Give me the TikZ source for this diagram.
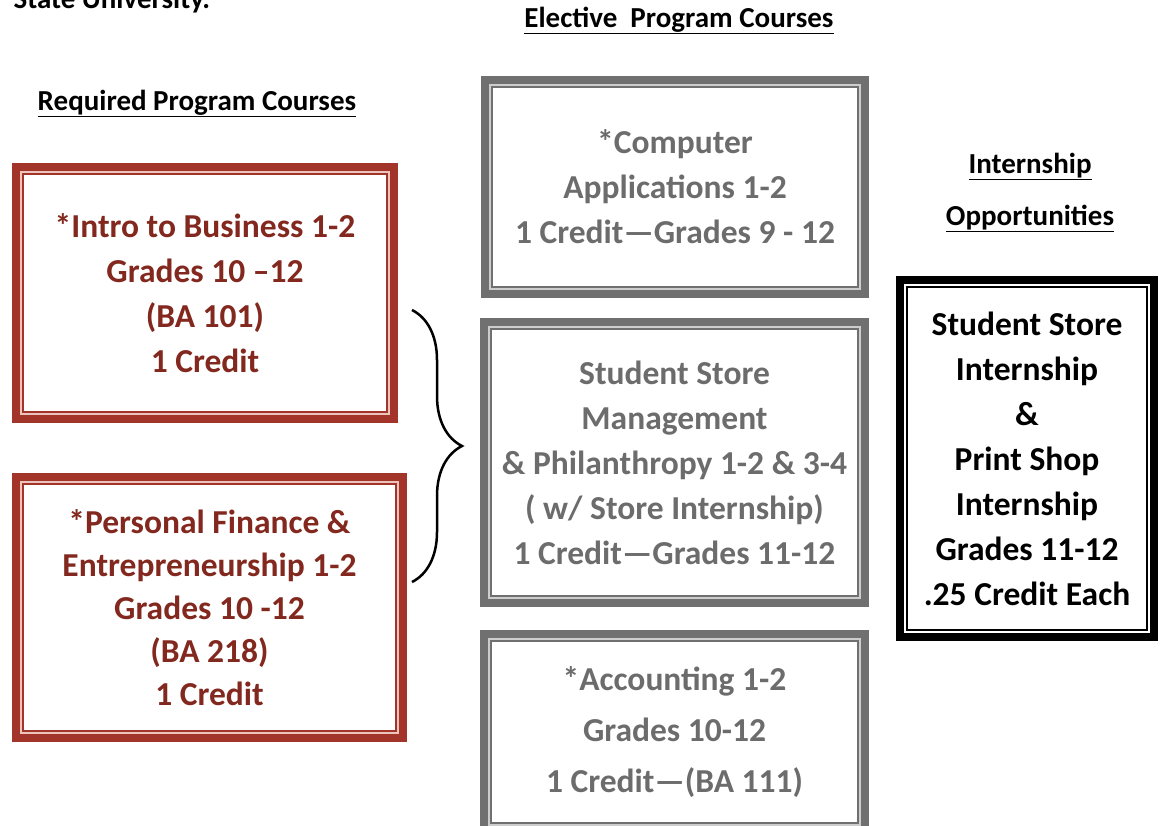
\documentclass[tikz,border=0pt]{standalone}
\usepackage{fontspec}
\setmainfont{Carlito}
\usetikzlibrary{decorations.pathreplacing}

\definecolor{redline}{RGB}{163,52,42}
\definecolor{redpale}{RGB}{236,196,188}
\definecolor{redtext}{RGB}{130,40,30}
\definecolor{grayline}{RGB}{112,112,112}
\definecolor{graypale}{RGB}{205,205,205}
\definecolor{graytext}{RGB}{108,108,108}

\begin{document}
\begin{tikzpicture}[
  x=1pt, y=-1pt,
  font=\bfseries,
  head/.style={anchor=base, font=\fontsize{29}{34}\selectfont\bfseries},
  card/.style={line width=8pt, outer sep=0pt, inner sep=0pt, align=center},
  req/.style={card, draw=redline, text=redtext, font=\fontsize{33.5}{45}\selectfont\bfseries},
  elec/.style={card, draw=grayline, text=graytext, font=\fontsize{33.5}{45}\selectfont\bfseries},
  intern/.style={card, draw=black, text=black, font=\fontsize{33.5}{45}\selectfont\bfseries},
  brc/.style={decorate, decoration={brace, amplitude=50pt}, line width=2.5pt}
]
\useasboundingbox (0,0) rectangle (1161,825);
\clip (0,0) rectangle (1161,825);

\node[anchor=base west, font=\fontsize{29}{34}\selectfont\bfseries] (uni) at (10,8) {State University.};

\node[head] (reqHead) at (197,110) {\underline{Required Program Courses}};
\node[head] (elecHead) at (679,27) {\underline{Elective\ \ Program Courses}};
\node[head] (intHead) at (1030,173) {\underline{Internship}};
\node[head] (oppHead) at (1030,225) {\underline{Opportunities}};

\node[req, minimum width=378, minimum height=252] (intro) at (205,293)
  {*Intro to Business 1-2\\Grades 10 –12\\(BA 101)\\1 Credit};
\node[req, minimum width=387, minimum height=261, font=\fontsize{33.5}{43}\selectfont\bfseries] (pfin) at (209.5,607.5)
  {*Personal Finance \&\\Entrepreneurship 1-2\\Grades 10 -12\\(BA 218)\\1 Credit};

\node[elec, minimum width=380, minimum height=214] (comp) at (675,187)
  {*Computer\\Applications 1-2\\1 Credit—Grades 9 - 12};
\node[elec, minimum width=381, minimum height=281] (store) at (674.5,462.5)
  {Student Store\\Management\\\& Philanthropy 1-2 \& 3-4\\( w/ Store Internship)\\1 Credit—Grades 11-12};
\node[elec, minimum width=381, minimum height=196, font=\fontsize{33.5}{51}\selectfont\bfseries] (acct) at (674.5,732)
  {*Accounting 1-2\\Grades 10-12\\1 Credit—(BA 111)};

\node[intern, minimum width=254, minimum height=357] (shop) at (1027,458.5)
  {Student Store\\Internship\\\&\\Print Shop\\Internship\\Grades 11-12\\.25 Credit Each};

\foreach \n/\c/\p in {intro/redline/redpale, pfin/redline/redpale, comp/grayline/graypale,
    store/grayline/graypale, acct/grayline/graypale, shop/black/white} {
  \draw[\p, line width=2pt] ([shift={(5pt,-5pt)}]\n.north west) rectangle ([shift={(-5pt,5pt)}]\n.south east);
  \draw[\c, line width=2pt] ([shift={(7pt,-7pt)}]\n.north west) rectangle ([shift={(-7pt,7pt)}]\n.south east);
}

\coordinate (braceTop) at (412,310);
\coordinate (braceBot) at (412,582);
\draw[brc] (braceTop) -- (braceBot);

\end{tikzpicture}
\end{document}
